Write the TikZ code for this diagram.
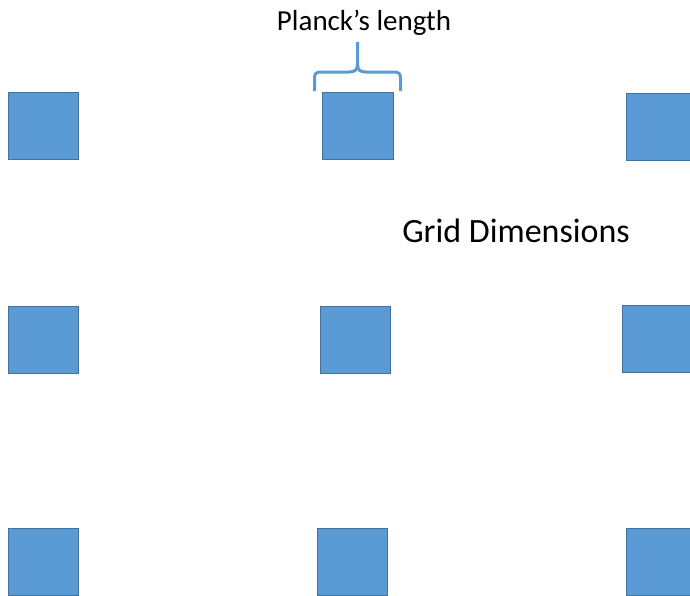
\documentclass[tikz,border=0pt]{standalone}
\usepackage{fontspec}
\setmainfont{Carlito}
\usetikzlibrary{positioning}
\definecolor{cellblue}{HTML}{5B9BD5}
\definecolor{celledge}{HTML}{41719C}
\tikzset{
  cell/.style={draw=celledge, fill=cellblue, line width=0.9pt, minimum width=70pt, minimum height=67pt, inner sep=0pt},
  bracepath/.style={draw=cellblue, line width=3pt, line cap=butt, line join=round},
  lbl/.style={font=\fontsize{29}{34}\selectfont, anchor=base, inner sep=0pt}
}
\begin{document}
\begin{tikzpicture}[x=1pt,y=-1pt]
	\useasboundingbox (0,0) rectangle (690,595);
	% cells of the grid
	\node[cell] (c-1-1) at (43,126) {};
	\node[cell, minimum width=71pt] (c-1-2) at (358,125.5) {};
	\node[cell] (c-1-3) at (661,126.5) {};
	\node[cell] (c-2-1) at (43.5,339.5) {};
	\node[cell] (c-2-2) at (355,339.5) {};
	\node[cell] (c-2-3) at (657,339) {};
	\node[cell] (c-3-1) at (43.5,561.5) {};
	\node[cell] (c-3-2) at (352,561.5) {};
	\node[cell] (c-3-3) at (661,561.5) {};
	% labels
	\node[lbl] (planck) at (364,30) {Planck’s length};
	\node[lbl, font=\fontsize{34}{40}\selectfont] (grid) at (516,242) {Grid Dimensions};
	% brace over the middle cell
	\coordinate (bl) at (314.5,91);
	\coordinate (br) at (400.5,91);
	\coordinate (tip) at (357.5,42);
	\path[bracepath] (bl) -- (314.5,79) .. controls (314.5,73) and (316,72) .. (322,72)
		-- (349,72) .. controls (355,72) and (357.5,70) .. (357.5,64) -- (tip);
	\path[bracepath] (br) -- (400.5,79) .. controls (400.5,73) and (399,72) .. (393,72)
		-- (366,72) .. controls (360,72) and (357.5,70) .. (357.5,64);
\end{tikzpicture}
\end{document}
